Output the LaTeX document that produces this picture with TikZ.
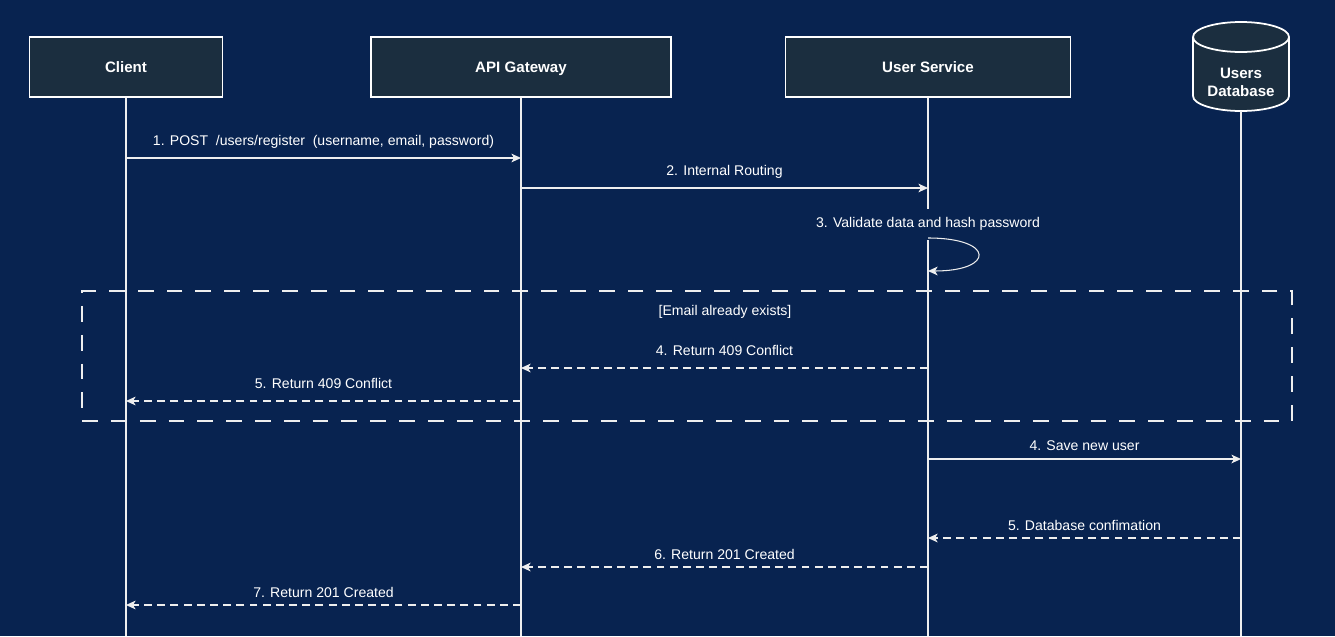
\documentclass[tikz,border=0pt]{standalone}
\usepackage{fontspec}
\setmainfont{Liberation Sans}
\usetikzlibrary{arrows.meta}
\definecolor{navybg}{HTML}{082350}
\definecolor{boxfill}{HTML}{1B2E3F}
\definecolor{lineclr}{HTML}{EEEEEE}

\begin{document}
\begin{tikzpicture}[x=0.02cm,y=0.02cm,
  actor/.style={draw=white, line width=1pt, fill=boxfill, text=white,
    font=\bfseries\fontsize{8.6}{10.2}\selectfont, minimum height=1.2cm, inner sep=0pt,
    text height=6.3pt, text depth=0pt},
  lifeline/.style={lineclr, line width=0.6pt},
  msg/.style={lineclr, line width=0.6pt, -{Stealth[length=5.5pt,width=5pt,inset=1.5pt]}},
  reply/.style={msg, dash pattern=on 4.5pt off 3pt},
  lbl/.style={text=white, font=\fontsize{8}{9.6}\selectfont, inner sep=1pt, midway, yshift=#1},
  lbl/.default=0.33cm,
  frame/.style={draw=lineclr, line width=1.2pt, dash pattern=on 9pt off 7.4pt}]

  % background
  \useasboundingbox[fill=navybg] (0,0) rectangle (1335,-636);

  % participants
  \node[actor, minimum width=3.86cm] (client) at (126,-67) {Client};
  \node[actor, minimum width=6cm] (gw) at (521,-67) {API Gateway};
  \node[actor, minimum width=5.7cm] (us) at (928,-67) {User Service};

  % database cylinder
  \filldraw[draw=white, line width=1pt, fill=boxfill]
    (1193,-37) -- (1193,-96) arc[start angle=180, end angle=360, x radius=48, y radius=15]
    -- (1289,-37) arc[start angle=0, end angle=180, x radius=48, y radius=15] -- cycle;
  \draw[white, line width=1pt] (1193,-37) arc[start angle=180, end angle=360, x radius=48, y radius=15];
  \node[text=white, font=\bfseries\fontsize{8.6}{10.2}\selectfont, align=center] (db) at (1241,-82) {Users\\Database};
  \coordinate (dbfoot) at (1241,-111);

  % lifelines
  \foreach \n in {client,gw,us} {
    \draw[lifeline] (\n.south) -- (\n.south |- 0,-636);
  }
  \draw[lifeline] (dbfoot) -- (dbfoot |- 0,-636);

  % requests
  \draw[msg] (client.south |- 0,-158) -- node[lbl] {1. POST\ \ /users/register\ \ (username, email, password)} (gw.south |- 0,-158);
  \draw[msg] (gw.south |- 0,-188) -- node[lbl] {2. Internal Routing} (us.south |- 0,-188);

  % self call
  \node[text=white, font=\fontsize{8}{9.6}\selectfont, inner sep=1pt, fill=navybg, minimum height=0.62cm] (valid) at (928,-224) {3. Validate data and hash password};
  \draw[msg] (us.south |- 0,-238) .. controls (995,-238) and (995,-271) .. (us.south |- 0,-271);

  % alt frame
  \node[frame, minimum width=24.2cm, minimum height=2.6cm, inner sep=0pt] (alt) at (687,-356) {};
  \node[text=white, font=\fontsize{8}{9.6}\selectfont] (cond) at (725,-312) {[Email already exists]};
  \draw[reply] (us.south |- 0,-368) -- node[lbl=0.36cm] {4. Return 409 Conflict} (gw.south |- 0,-368);
  \draw[reply] (gw.south |- 0,-401) -- node[lbl=0.36cm] {5. Return 409 Conflict} (client.south |- 0,-401);

  % success path
  \draw[msg] (us.south |- 0,-459) -- node[lbl=0.26cm] {4. Save new user} (dbfoot |- 0,-459);
  \draw[reply] (dbfoot |- 0,-538) -- node[lbl=0.26cm] {5. Database confimation} (us.south |- 0,-538);
  \draw[reply] (us.south |- 0,-567) -- node[lbl=0.26cm] {6. Return 201 Created} (gw.south |- 0,-567);
  \draw[reply] (gw.south |- 0,-605) -- node[lbl=0.26cm] {7. Return 201 Created} (client.south |- 0,-605);

\end{tikzpicture}
\end{document}
